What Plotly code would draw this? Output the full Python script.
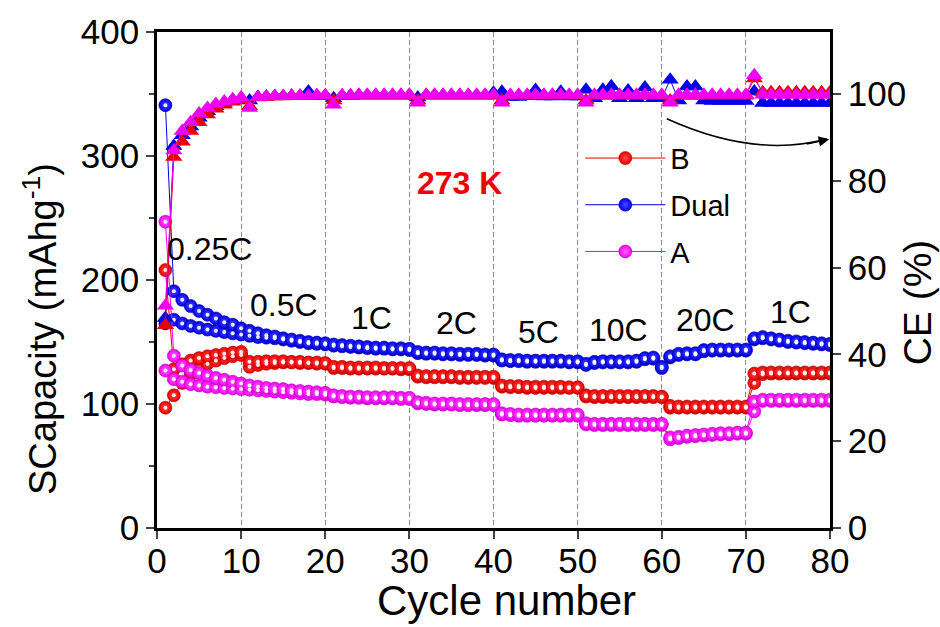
import plotly.graph_objects as go

cycles = list(range(1, 81))

rate_labels = ["0.25C", "0.5C", "1C", "2C", "5C", "10C", "20C", "1C"]
series_names = ["B", "Dual", "A"]

# specific capacity (mAh g-1): charge / discharge, and coulombic efficiency (%)
b_charge = [208, 128, 132, 135, 137, 138.5, 139.5, 140.5, 141.5, 142,
            134, 134, 134.5, 134.5, 134.5, 134, 134, 133.5, 133.5, 133,
            130, 130, 129.5, 129.5, 129.5, 129.5, 129, 129, 129, 129,
            123, 122.5, 122.5, 122.5, 122.5, 122, 122, 122, 122, 122,
            115, 114.5, 114.5, 114, 114, 114, 114, 114, 113.5, 113.5,
            107, 106.5, 106.5, 106.5, 106.5, 106.5, 106.5, 106.5, 106.5, 106,
            98.5, 98, 98, 98, 98, 98, 98, 98, 98, 98,
            124.5, 125.5, 125.5, 125.5, 125.5, 125.5, 125.5, 125.5, 125.5, 125.5]
b_discharge = [97, 107, 117, 124, 129, 132.5, 135, 137, 138.5, 139.5,
               130, 131.5, 132.5, 133, 133.5, 133.5, 133, 133, 132.5, 132.5,
               129, 129, 128.5, 128.5, 128.5, 128.5, 128.5, 128.5, 128, 128,
               122, 121.5, 121.5, 121.5, 121.5, 121, 121, 121, 121, 121,
               114, 113.5, 113.5, 113, 113, 113, 113, 113, 113, 113,
               106, 105.5, 105.5, 105.5, 105.5, 105.5, 105.5, 105.5, 105.5, 105.5,
               97, 97, 97, 97, 97, 97, 97, 97, 97, 97,
               117, 124, 124.5, 124.5, 124.5, 124.5, 124.5, 124.5, 124.5, 124.5]
b_ce = [46.7, 85.5, 89, 91.5, 93.5, 95.3, 96.6, 97.5, 98.2, 98.7,
        97.2, 99.2, 99.3, 99.4, 99.4, 99.5, 99.5, 99.5, 99.6, 99.6,
        98.5, 99.6, 99.6, 99.6, 99.6, 99.6, 99.6, 99.6, 99.6, 99.6,
        98.5, 99.6, 99.6, 99.6, 99.6, 99.6, 99.6, 99.6, 99.6, 99.6,
        98.5, 99.6, 99.6, 99.6, 99.6, 99.6, 99.6, 99.6, 99.6, 99.6,
        98.5, 99.6, 99.6, 99.6, 99.6, 99.6, 99.6, 99.6, 99.6, 99.6,
        98.5, 99.6, 99.6, 99.6, 99.6, 99.6, 99.6, 99.6, 99.6, 99.6,
        103.6, 100.4, 100.4, 100.4, 100.4, 100.4, 100.4, 100.4, 100.4, 100.4]

dual_charge = [341, 191, 184, 179, 175, 172, 169, 166, 164, 161,
               159, 157, 155.5, 154.5, 153, 152, 151, 150, 149.5, 149,
               148, 147.5, 147, 146.5, 146, 145.5, 145.5, 145, 145, 144.5,
               142, 141.5, 141.5, 141, 141, 140.5, 140.5, 140.5, 140, 140,
               136, 135.5, 135.5, 135, 135, 135, 135, 135, 134.5, 134.5,
               132.5, 134, 134.5, 134.5, 134.5, 134.5, 135, 137, 137.5, 130,
               138.5, 140.5, 141, 141, 143.5, 144, 144, 144, 144, 144,
               153, 154, 153, 152, 151, 150.5, 150, 149.5, 149, 148.5]
dual_discharge = [165, 168, 165, 163, 161.5, 160, 159, 158, 157, 156,
                  155, 154, 153.5, 153, 152, 151, 150, 149, 148.5, 148,
                  147, 146.5, 146, 145.5, 145, 144.5, 144.5, 144, 144, 143.5,
                  141, 140.5, 140.5, 140, 140, 139.5, 139.5, 139.5, 139, 139,
                  135, 134.5, 134.5, 134, 134, 134, 134, 134, 133.5, 133.5,
                  131.5, 133, 133.5, 133.5, 133.5, 133.5, 134, 136, 136.5, 129,
                  137.5, 139.5, 140, 140, 142.5, 143, 143, 143, 143, 143,
                  152, 153, 152, 151, 150, 149.5, 149, 148.5, 148, 147.5]
dual_ce = [48.4, 88, 90.5, 92.5, 94.5, 96, 97.2, 98, 98.6, 99,
           98.5, 99.3, 99.4, 99.5, 99.5, 99.6, 99.6, 100.6, 99.6, 99.6,
           99, 99.6, 99.6, 99.7, 99.7, 99.7, 99.7, 99.7, 99.7, 99.7,
           99.2, 99.7, 99.7, 99.7, 99.7, 99.7, 99.7, 99.7, 99.7, 100.3,
           100.5, 99.3, 99.3, 99.5, 100.9, 99.4, 99.4, 100.5, 99.4, 99.4,
           101, 99, 101, 101.8, 99, 100.8, 99, 101.5, 99, 99,
           103.3, 98.5, 101.7, 101.7, 98.5, 98.4, 98.4, 98.4, 98.4, 98.4,
           100.6, 97.9, 97.9, 97.9, 97.9, 97.9, 97.9, 97.9, 97.9, 97.9]

a_charge = [247, 139, 131, 127.5, 125, 123, 121, 119.5, 118, 116.5,
            115, 114, 113, 112.5, 112, 111, 110.5, 110, 109.5, 109,
            107, 106.5, 106, 106, 105.5, 105.5, 105.5, 105.5, 105, 105,
            101.5, 101, 100.5, 100.5, 100.5, 100, 100, 100, 100, 100,
            92.5, 92, 91.5, 91.5, 91.5, 91.5, 91.5, 91.5, 91.5, 91.5,
            84.5, 84, 84, 84, 84, 84, 84, 84, 84, 84,
            73, 73.5, 74.5, 75, 75.5, 76, 76.5, 76.5, 77, 77,
            102, 103.5, 103.5, 103.5, 103.5, 103.5, 103.5, 103.5, 103.5, 103.5]
a_discharge = [127, 120, 118, 116, 115, 114, 113.5, 113, 112.5, 112,
               111.5, 111, 110.5, 110, 109.5, 109, 108.5, 108, 108, 107.5,
               106, 105.5, 105, 105, 104.5, 104.5, 104.5, 104.5, 104, 104,
               100.5, 100, 99.5, 99.5, 99.5, 99, 99, 99, 99, 99,
               91.5, 91, 90.5, 90.5, 90.5, 90.5, 90.5, 90.5, 90.5, 90.5,
               83.5, 83, 83, 83, 83, 83, 83, 83, 83, 83,
               71.5, 72.5, 73.5, 74, 74.5, 75, 75.5, 75.5, 76, 76,
               94, 102.5, 102.5, 102.5, 102.5, 102.5, 102.5, 102.5, 102.5, 102.5]
a_ce = [51.2, 87, 91.5, 93.5, 95.5, 96.8, 97.7, 98.3, 98.8, 99.2,
        96.8, 99.3, 99.4, 99.5, 99.5, 99.6, 99.6, 99.6, 99.7, 99.7,
        97.5, 99.7, 99.7, 99.8, 99.8, 99.8, 99.8, 99.8, 99.8, 99.8,
        98, 99.8, 99.8, 99.8, 99.8, 99.8, 99.8, 99.8, 99.8, 99.8,
        98, 99.8, 99.8, 99.8, 99.8, 99.8, 99.8, 99.8, 99.8, 99.8,
        98, 99.8, 99.8, 99.8, 99.8, 99.8, 99.8, 99.8, 99.8, 99.8,
        98, 99.8, 99.8, 99.8, 99.8, 99.8, 99.8, 99.8, 99.8, 99.8,
        104.3, 99.8, 99.8, 99.8, 99.8, 99.8, 99.8, 99.8, 99.8, 99.8]

FONT = "Liberation Sans, Arial, sans-serif"
styles = {
    "B": dict(color="#e80000", light="#ff4a4a", edge="#b00000"),
    "Dual": dict(color="#0000e8", light="#4a4aff", edge="#0000a0"),
    "A": dict(color="#f000f0", light="#ff66ff", edge="#c000c0"),
}
capacity = {"B": (b_charge, b_discharge), "Dual": (dual_charge, dual_discharge),
            "A": (a_charge, a_discharge)}
ce = {"B": b_ce, "Dual": dual_ce, "A": a_ce}

fig = go.Figure()

# capacity balls
for name in series_names:
    st = styles[name]
    chg, dis = capacity[name]
    for k, vals in enumerate((dis, chg)):
        fig.add_trace(go.Scatter(
            x=cycles, y=vals, mode="lines+markers", name=name,
            showlegend=(k == 1), legendgroup=name,
            line=dict(color=st["color"], width=1),
            marker=dict(symbol="circle", size=13, color=st["color"],
                        line=dict(width=0.6, color=st["edge"]),
                        gradient=dict(type="radial", color=st["light"])),
        ))
    for vals in (dis, chg):
        fig.add_trace(go.Scatter(
            x=cycles, y=vals, mode="markers", showlegend=False, hoverinfo="skip",
            marker=dict(symbol="circle", size=4, color="rgba(255,255,255,0.9)"),
        ))

# coulombic efficiency triangles
for name in ["Dual", "B", "A"]:
    st = styles[name]
    fig.add_trace(go.Scatter(
        x=cycles, y=ce[name], yaxis="y2", mode="lines+markers", showlegend=False,
        line=dict(color=st["color"], width=1),
        marker=dict(symbol="triangle-up", size=15, color=st["color"], line=dict(width=0)),
    ))

label_x = [6.2, 15.1, 25.5, 35.6, 45.4, 54.9, 65.2, 75.3]
label_y = [225, 180, 169, 165, 158, 159.5, 167.6, 174.3]
annotations = []
for t, lx, ly in zip(rate_labels, label_x, label_y):
    annotations.append(dict(x=lx, y=ly, xref="x", yref="y", text=t, showarrow=False,
                            xanchor="center", yanchor="middle",
                            font=dict(family=FONT, size=32, color="black")))
annotations.append(dict(x=35.9, y=278, xref="x", yref="y", text="<b>273 K</b>", showarrow=False,
                        xanchor="center", yanchor="middle",
                        font=dict(family=FONT, size=32, color="#ee0000")))
# axis titles
annotations.append(dict(x=-0.174, y=0.401, xref="paper", yref="paper",
                        xanchor="center", yanchor="middle",
                        text="SCapacity (mAhg<sup>-1</sup>)", textangle=-90, showarrow=False,
                        font=dict(family=FONT, size=38, color="black")))
annotations.append(dict(x=1.13, y=0.456, xref="paper", yref="paper", text="CE (%)",
                        xanchor="center", yanchor="middle",
                        textangle=-90, showarrow=False,
                        font=dict(family=FONT, size=39, color="black")))
annotations.append(dict(x=0.52, y=-0.147, xref="paper", yref="paper", text="Cycle number",
                        xanchor="center", yanchor="middle",
                        showarrow=False, font=dict(family=FONT, size=42, color="black")))
# arrow head
annotations.append(dict(x=79.9, y=313.5, xref="x", yref="y", ax=-24, ay=5, text="",
                        showarrow=True, arrowhead=2, arrowsize=1.4, arrowwidth=1.5,
                        arrowcolor="black", standoff=0))

fig.update_layout(
    width=940, height=627,
    margin=dict(l=157, r=110, t=32, b=99),
    paper_bgcolor="white", plot_bgcolor="white",
    font=dict(family=FONT, color="black"),
    xaxis=dict(range=[0, 80], dtick=10, tick0=0, ticks="outside", ticklen=8, tickwidth=2,
               showline=True, linewidth=2.5, linecolor="black", mirror=True,
               showgrid=True, gridcolor="#8a8a8a", gridwidth=1, griddash="5px,3px",
               zeroline=False, tickfont=dict(size=35), ticklabelstandoff=-8),
    yaxis=dict(range=[0, 400], dtick=100, ticks="outside", ticklen=8, tickwidth=2,
               showline=True, linewidth=2.5, linecolor="black",
               minor=dict(dtick=50, ticks="outside", ticklen=5, tickwidth=2, showgrid=False),
               showgrid=False, zeroline=False, tickfont=dict(size=35)),
    yaxis2=dict(range=[0, 400 / 3.5], dtick=20, overlaying="y", side="right",
                ticks="outside", ticklen=8, tickwidth=2,
                showline=True, linewidth=2.5, linecolor="black",
                showgrid=False, zeroline=False, tickfont=dict(size=35)),
    legend=dict(x=0.629, y=0.797, xanchor="left", yanchor="top", bgcolor="rgba(0,0,0,0)",
                font=dict(size=29), tracegroupgap=6, itemwidth=80),
    shapes=[dict(type="path", xref="x", yref="y", path="M 60.6,330 Q 71,298 79.6,313.7",
                 line=dict(color="black", width=1.5))],
    annotations=annotations,
    showlegend=True,
)

fig.write_html("out.html")
